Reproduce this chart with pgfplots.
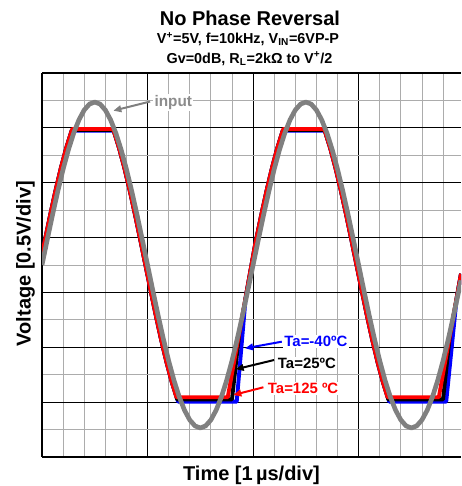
\documentclass[border=0pt]{standalone}
\usepackage{fontspec}
\setmainfont{Liberation Sans}
\usepackage{pgfplots}
\pgfplotsset{compat=1.18}
\usetikzlibrary{arrows.meta}
\definecolor{inpgray}{RGB}{128,128,128}
\definecolor{txtgray}{RGB}{140,140,140}
\definecolor{tblue}{RGB}{0,0,255}
\definecolor{tred}{RGB}{255,0,0}
\begin{document}
\begin{tikzpicture}
\begin{axis}[
  at={(0,0)}, anchor=south west,
  scale only axis, width=314.25pt, height=288pt,
  xmin=0, xmax=3.97, ymin=0, ymax=7,
  axis x line*=box, axis y line*=left,
  axis line style={-, line width=1.6pt, black},
  xtick={0,1,2,3}, ytick={0,1,2,3,4,5,6,7},
  minor xtick={0.2,0.4,0.6,0.8,1.2,1.4,1.6,1.8,2.2,2.4,2.6,2.8,3.2,3.4,3.6,3.8},
  minor ytick={0.5,1.5,2.5,3.5,4.5,5.5,6.5},
  xticklabels={}, yticklabels={},
  major tick length=0pt, minor tick length=0pt,
  grid=both,
  major grid style={black, line width=0.7pt},
  minor grid style={gray!65, line width=0.6pt},
]
% Ta = -40 C
\addplot[tblue, line width=2.9pt, line join=round] coordinates {
(0,3.690) (0.03,3.972) (0.08,4.433) (0.13,4.871) (0.18,5.275) (0.23,5.635) (0.281,5.95)
(0.679,5.95) (0.73,5.635) (0.78,5.275) (0.83,4.871) (0.88,4.433) (0.93,3.972) (0.98,3.500)
(1.03,3.028) (1.08,2.567) (1.13,2.129) (1.18,1.725) (1.23,1.365) (1.289,1.01)
(1.845,1.01) (1.93,2.91) (2.02,3.878)
(2.03,3.972) (2.08,4.433) (2.13,4.871) (2.18,5.275) (2.23,5.635) (2.281,5.95)
(2.679,5.95) (2.73,5.635) (2.78,5.275) (2.83,4.871) (2.88,4.433) (2.93,3.972) (2.98,3.500)
(3.03,3.028) (3.08,2.567) (3.13,2.129) (3.18,1.725) (3.23,1.365) (3.289,1.01)
(3.83,1.01) (3.93,2.91) (3.97,3.34)
};
% Ta = 25 C
\addplot[black, line width=2.9pt, line join=round] coordinates {
(0,3.690) (0.03,3.972) (0.08,4.433) (0.13,4.871) (0.18,5.275) (0.23,5.635) (0.283,5.96)
(0.677,5.96) (0.73,5.635) (0.78,5.275) (0.83,4.871) (0.88,4.433) (0.93,3.972) (0.98,3.500)
(1.03,3.028) (1.08,2.567) (1.13,2.129) (1.18,1.725) (1.23,1.365) (1.281,1.05)
(1.80,1.05) (1.87,2.27) (2.02,3.878)
(2.03,3.972) (2.08,4.433) (2.13,4.871) (2.18,5.275) (2.23,5.635) (2.283,5.96)
(2.677,5.96) (2.73,5.635) (2.78,5.275) (2.83,4.871) (2.88,4.433) (2.93,3.972) (2.98,3.500)
(3.03,3.028) (3.08,2.567) (3.13,2.129) (3.18,1.725) (3.23,1.365) (3.281,1.05)
(3.80,1.05) (3.865,2.22) (3.97,3.34)
};
% Ta = 125 C
\addplot[tred, line width=2.9pt, line join=round] coordinates {
(0,3.690) (0.03,3.972) (0.08,4.433) (0.13,4.871) (0.18,5.275) (0.23,5.635) (0.28,5.943) (0.287,5.98)
(0.673,5.98) (0.68,5.943) (0.73,5.635) (0.78,5.275) (0.83,4.871) (0.88,4.433) (0.93,3.972) (0.98,3.500)
(1.03,3.028) (1.08,2.567) (1.13,2.129) (1.18,1.725) (1.23,1.365) (1.274,1.09)
(1.76,1.09) (2.02,3.878)
(2.03,3.972) (2.08,4.433) (2.13,4.871) (2.18,5.275) (2.23,5.635) (2.28,5.943) (2.287,5.98)
(2.673,5.98) (2.68,5.943) (2.73,5.635) (2.78,5.275) (2.83,4.871) (2.88,4.433) (2.93,3.972) (2.98,3.500)
(3.03,3.028) (3.08,2.567) (3.13,2.129) (3.18,1.725) (3.23,1.365) (3.274,1.09)
(3.76,1.09) (3.97,3.34)
};
% input
\addplot[inpgray, line width=3.5pt, line join=round] coordinates {
(0,3.500) (0.05,3.964) (0.1,4.418) (0.15,4.848) (0.2,5.246) (0.25,5.600) (0.3,5.903) (0.35,6.146)
(0.4,6.325) (0.45,6.434) (0.5,6.470) (0.55,6.434) (0.6,6.325) (0.65,6.146) (0.7,5.903) (0.75,5.600)
(0.8,5.246) (0.85,4.848) (0.9,4.418) (0.95,3.964) (1.0,3.500) (1.05,3.036) (1.1,2.582) (1.15,2.152)
(1.2,1.754) (1.25,1.400) (1.3,1.097) (1.35,0.854) (1.4,0.675) (1.45,0.566) (1.5,0.530) (1.55,0.566)
(1.6,0.675) (1.65,0.854) (1.7,1.097) (1.75,1.400) (1.8,1.754) (1.85,2.152) (1.9,2.582) (1.95,3.036)
(2.0,3.500) (2.05,3.964) (2.1,4.418) (2.15,4.848) (2.2,5.246) (2.25,5.600) (2.3,5.903) (2.35,6.146)
(2.4,6.325) (2.45,6.434) (2.5,6.470) (2.55,6.434) (2.6,6.325) (2.65,6.146) (2.7,5.903) (2.75,5.600)
(2.8,5.246) (2.85,4.848) (2.9,4.418) (2.95,3.964) (3.0,3.500) (3.05,3.036) (3.1,2.582) (3.15,2.152)
(3.2,1.754) (3.25,1.400) (3.3,1.097) (3.35,0.854) (3.4,0.675) (3.45,0.566) (3.5,0.530) (3.55,0.566)
(3.6,0.675) (3.65,0.854) (3.7,1.097) (3.75,1.400) (3.8,1.754) (3.85,2.152) (3.9,2.582) (3.95,3.036)
(3.97,3.220)
};
% annotations
\draw[inpgray, line width=1.5pt, -{Triangle[length=6pt,width=5pt]}] (axis cs:1.024,6.48) -- (axis cs:0.676,6.313);
\node[anchor=base, fill=white, inner sep=1pt, text=txtgray, font=\fontsize{11.5}{13}\selectfont\bfseries] at (axis cs:1.244,6.398) {input};
\draw[tblue, line width=1.5pt, -{Triangle[length=6pt,width=5pt]}] (axis cs:2.272,2.102) -- (axis cs:1.924,1.981);
\node[anchor=base, fill=white, inner sep=1pt, text=tblue, font=\fontsize{11.2}{13}\selectfont\bfseries] at (axis cs:2.595,2.011) {Ta=-40ºC};
\draw[black, line width=1.5pt, -{Triangle[length=6pt,width=5pt]}] (axis cs:2.199,1.768) -- (axis cs:1.835,1.599);
\node[anchor=base, fill=white, inner sep=1pt, text=black, font=\fontsize{11.2}{13}\selectfont\bfseries] at (axis cs:2.510,1.617) {Ta=25ºC};
\draw[tred, line width=1.5pt, -{Triangle[length=6pt,width=5pt]}] (axis cs:2.098,1.271) -- (axis cs:1.813,1.130);
\node[anchor=base, fill=white, inner sep=1pt, text=tred, font=\fontsize{11.2}{13}\selectfont\bfseries] at (axis cs:2.474,1.161) {Ta=125 ºC};
\end{axis}
\node[anchor=base, font=\fontsize{15}{18}\selectfont\bfseries] at (156pt,323.25pt) {No Phase Reversal};
\node[anchor=base, font=\fontsize{10.8}{12}\selectfont\bfseries] at (154.5pt,310.2pt) {V\textsuperscript{+}=5V, f=10kHz, V\textsubscript{IN}=6VP-P};
\node[anchor=base, font=\fontsize{10.8}{12}\selectfont\bfseries] at (155.6pt,295.3pt) {Gv=0dB, R\textsubscript{L}=2kΩ to V\textsuperscript{+}/2};
\node[anchor=base, font=\fontsize{15}{18}\selectfont\bfseries] at (157.1pt,-17.25pt) {Time [1\,µs/div]};
\node[anchor=base, rotate=90, font=\fontsize{15}{18}\selectfont\bfseries] at (-8.6pt,145.1pt) {Voltage [0.5V/div]};
\pgfresetboundingbox
\path[use as bounding box] (-31.5pt,-21.75pt) rectangle (314.25pt,342.75pt);
\end{tikzpicture}
\end{document}
